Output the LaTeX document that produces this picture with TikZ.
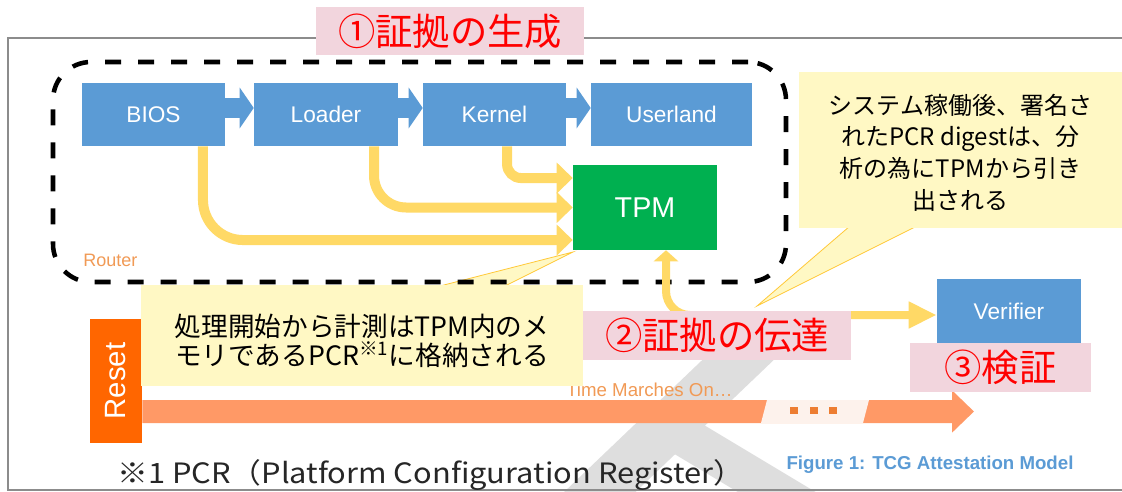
\documentclass[tikz,border=0pt]{standalone}
\usepackage{fontspec}
\setmainfont{Liberation Sans}
\newfontfamily\jp{Noto Sans CJK JP}
\newfontfamily\jpwide[FakeStretch=1.1]{Noto Sans CJK JP}
\usetikzlibrary{arrows.meta}

\definecolor{boxblue}{HTML}{5B9BD5}
\definecolor{tpmgreen}{HTML}{00B050}
\definecolor{flowyellow}{HTML}{FFD966}
\definecolor{notefill}{HTML}{FFF8C4}
\definecolor{noteline}{HTML}{FFC938}
\definecolor{tagpink}{HTML}{F2D5DD}
\definecolor{tagred}{HTML}{FF0000}
\definecolor{resetorange}{HTML}{FF6600}
\definecolor{timeorange}{HTML}{FF9966}
\definecolor{gapfill}{HTML}{FDF2EC}
\definecolor{dotorange}{HTML}{ED7D31}
\definecolor{labelorange}{HTML}{F19A55}
\definecolor{framegray}{HTML}{8C8C8C}
\definecolor{markgray}{HTML}{DEDEDE}
\definecolor{inkgray}{HTML}{262626}

\begin{document}
\begin{tikzpicture}[x=0.75pt,y=-0.75pt,
  sz/.style 2 args={minimum width=#1*0.75pt,minimum height=#2*0.75pt,inner sep=0pt},
  bluebox/.style={fill=boxblue,text=white,font=\fontsize{17}{20}\selectfont},
  tag/.style={fill=tagpink,text=tagred,font=\jp\fontsize{28}{32}\selectfont},
  note/.style={fill=notefill},
  notetext/.style={align=center,text=black,inner sep=0pt},
  flow/.style={draw=flowyellow,line width=7.5pt,-{Triangle[length=12pt,width=22.5pt]}},
  chain/.style={draw=boxblue,line width=15pt,-{Triangle[length=10.5pt,width=30pt]}},
  pointer/.style={fill=notefill,draw=noteline,line width=0.6pt},
  dot/.style={fill=dotorange}
]
\useasboundingbox (0,0) rectangle (1122,492);
\fill[white] (0,0) rectangle (1122,492);

% faint watermark behind the figure
\begin{scope}
  \clip (0,0) rectangle (1122,492);
  \draw[markgray,line width=37pt] (760,339) -- (560,530);
  \draw[markgray,line width=30pt] (665,425) -- (865,545);
\end{scope}

% page frame
\draw[framegray,line width=1.1pt] (1122,38) -- (8,38) -- (8,490) -- (1122,490);

% callout pointers
\filldraw[pointer] (440,286) -- (573,252) -- (505,286);
\filldraw[pointer] (850,226) -- (757,306) -- (917,226);

% router boundary
\node[sz={733}{220},draw=black,line width=3.4pt,
      dash pattern=on 12pt off 12.75pt,rounded corners=28.5pt] (zone) at (419.5,172) {};
\node[anchor=base west,text=labelorange,inner sep=0pt,
      font=\fontsize{13.5}{16}\selectfont] (routerlabel) at (83,266) {Router};

% boot chain
\node[bluebox,sz={143}{63}] (bios) at (153.5,114.5) {BIOS};
\node[bluebox,sz={144}{63}] (loader) at (326,114.5) {Loader};
\node[bluebox,sz={143}{63}] (kernel) at (494.5,114.5) {Kernel};
\node[bluebox,sz={161}{63}] (userland) at (671.5,114.5) {Userland};
\node[fill=tpmgreen,text=white,font=\fontsize{21.5}{24}\selectfont,sz={144}{85}] (tpm) at (645,207.5) {TPM};

\draw[chain] ([yshift=4.9pt]bios.east) -- ([yshift=4.9pt]loader.west);
\draw[chain] ([yshift=4.9pt]loader.east) -- ([yshift=4.9pt]kernel.west);
\draw[chain] ([yshift=4.9pt]kernel.east) -- ([yshift=4.9pt]userland.west);

% measurements into the TPM
\draw[flow,rounded corners=30pt] ([xshift=37.1pt]bios.south) |- ([yshift=-24.4pt]tpm.west);
\draw[flow,rounded corners=24pt] ([xshift=36pt]loader.south) |- (tpm.west);
\draw[flow,rounded corners=10.5pt] ([xshift=9.4pt]kernel.south) |- ([yshift=22.1pt]tpm.west);

% verifier and transfer
\node[bluebox,sz={144}{64}] (verifier) at (1009,311) {Verifier};
\draw[draw=flowyellow,line width=6pt,
      {Triangle[length=8.25pt,width=18pt]}-{Triangle[length=21pt,width=18.75pt]},
      rounded corners=18pt]
  ([xshift=15.75pt]tpm.south) |- ([yshift=-3pt]verifier.west);

% timeline
\node[fill=resetorange,sz={52}{124}] (reset) at (116,381) {};
\node[rotate=90,text=white,font=\fontsize{22}{24}\selectfont] (resetlabel) at (reset.center) {Reset};
\coordinate (timeend) at (974,411.5);
\draw[timeorange,line width=17.25pt,-{Triangle[length=16.5pt,width=30.75pt]}]
  ([yshift=-22.9pt]reset.east) -- (timeend);
\fill[gapfill] (767,400) -- (869,400) -- (863,423) -- (761,423) -- cycle;
\fill[dot] (790,407) rectangle (798,414);
\fill[dot] (810,407) rectangle (818,414);
\fill[dot] (829,407) rectangle (837,414);
\node[anchor=base west,text=labelorange,inner sep=0pt,
      font=\fontsize{14}{16}\selectfont] (timelabel) at (566,396) {Time Marches On…};

% callouts
\node[note,sz={442}{101}] (note1) at (362,335.5) {};
\node[notetext,font=\jp\fontsize{20}{22}\selectfont] (note1text) at ([yshift=-4pt]note1.center)
  {処理開始から計測はTPM内のメ\\モリであるPCR\textsuperscript{※1}に格納される};
\node[note,sz={323}{156}] (note2) at (960.5,150) {};
\node[notetext,font=\jp\fontsize{18}{23.8}\selectfont] (note2text) at ([yshift=-2pt]note2.center)
  {システム稼働後、署名さ\\れたPCR digestは、分\\析の為にTPMから引き\\出される};

% step tags
\node[tag,sz={268}{48}] (step1) at (450,31) {①証拠の生成};
\node[tag,sz={268}{49}] (step2) at (717,335.5) {②証拠の伝達};
\node[tag,sz={181}{49}] (step3) at (1000.5,367.5) {③検証};

% caption and footnote
\node[text=boxblue,font=\bfseries\fontsize{14}{16}\selectfont] (caption) at (930,465)
  {Figure 1: TCG Attestation Model};
\node[anchor=west,text=inkgray,inner sep=0pt,font=\jpwide\fontsize{21}{24}\selectfont] (footnote)
  at (117,475) {※1 PCR（Platform Configuration Register）};
\end{tikzpicture}
\end{document}
